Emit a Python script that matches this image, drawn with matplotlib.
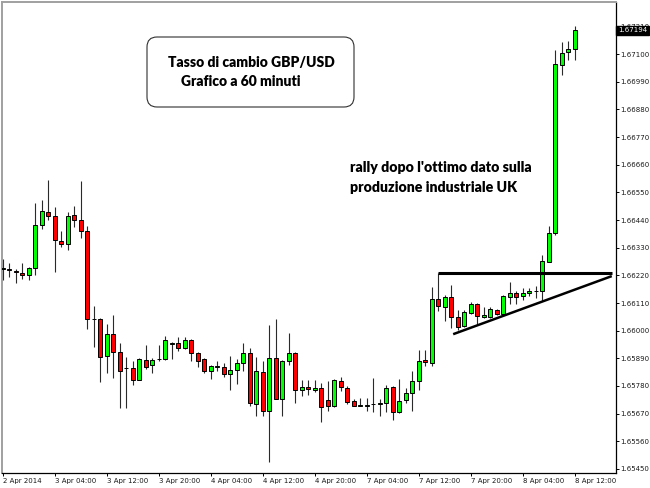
import numpy as np
import matplotlib
matplotlib.use('Agg')
import matplotlib.pyplot as plt
from matplotlib.patches import FancyBboxPatch


# GBP/USD hourly candles, 2 Apr 2014 20:00 -> 8 Apr 12:00 (weekend skipped)
opens = [1.66245, 1.66247, 1.66236, 1.66231, 1.66221, 1.66250, 1.66419, 1.66470, 1.66457, 1.66356,
         1.66345, 1.66459, 1.66441, 1.66396, 1.66047, 1.66046, 1.65899, 1.65986, 1.65915, 1.65851,
         1.65850, 1.65805, 1.65883, 1.65862, 1.65886, 1.65886, 1.65945, 1.65950, 1.65930, 1.65964,
         1.65912, 1.65886, 1.65841, 1.65857, 1.65857, 1.65829, 1.65845, 1.65872, 1.65912, 1.65709,
         1.65837, 1.65680, 1.65892, 1.65730, 1.65879, 1.65912, 1.65764, 1.65776, 1.65765, 1.65773,
         1.65726, 1.65701, 1.65801, 1.65772, 1.65722, 1.65702, 1.65701, 1.65707, 1.65707, 1.65714,
         1.65777, 1.65676, 1.65726, 1.65751, 1.65798, 1.65883, 1.65872, 1.66125, 1.66095, 1.66135,
         1.66053, 1.66019, 1.66072, 1.66105, 1.66055, 1.66055, 1.66082, 1.66066, 1.66134, 1.66150,
         1.66138, 1.66150, 1.66157, 1.66156, 1.66275, 1.66387, 1.67058, 1.67107, 1.67119]
highs = [1.66284, 1.66268, 1.66247, 1.66268, 1.66255, 1.66506, 1.66520, 1.66599, 1.66490, 1.66397,
         1.66470, 1.66494, 1.66595, 1.66416, 1.66099, 1.66049, 1.66028, 1.66061, 1.65952, 1.65896,
         1.65880, 1.65890, 1.65944, 1.65890, 1.65942, 1.65978, 1.65953, 1.65975, 1.65975, 1.65966,
         1.65914, 1.65892, 1.65864, 1.65880, 1.65870, 1.65900, 1.65887, 1.65949, 1.65932, 1.65894,
         1.65878, 1.66023, 1.66047, 1.65882, 1.65990, 1.65915, 1.65802, 1.65804, 1.65802, 1.65793,
         1.65801, 1.65806, 1.65817, 1.65779, 1.65729, 1.65734, 1.65734, 1.65812, 1.65729, 1.65784,
         1.65780, 1.65806, 1.65771, 1.65838, 1.65925, 1.65925, 1.66172, 1.66228, 1.66143, 1.66181,
         1.66082, 1.66082, 1.66113, 1.66109, 1.66093, 1.66095, 1.66085, 1.66140, 1.66193, 1.66159,
         1.66168, 1.66168, 1.66179, 1.66301, 1.66416, 1.67116, 1.67147, 1.67153, 1.67212]
lows = [1.66201, 1.66212, 1.66189, 1.66204, 1.66200, 1.66221, 1.66403, 1.66440, 1.66233, 1.66334,
        1.66320, 1.66411, 1.66367, 1.66007, 1.65937, 1.65796, 1.65833, 1.65812, 1.65692, 1.65692,
        1.65783, 1.65802, 1.65846, 1.65833, 1.65879, 1.65883, 1.65888, 1.65921, 1.65928, 1.65879,
        1.65855, 1.65833, 1.65808, 1.65839, 1.65817, 1.65766, 1.65789, 1.65838, 1.65700, 1.65660,
        1.65661, 1.65479, 1.65727, 1.65660, 1.65862, 1.65714, 1.65740, 1.65743, 1.65756, 1.65636,
        1.65680, 1.65697, 1.65762, 1.65710, 1.65701, 1.65699, 1.65681, 1.65678, 1.65659, 1.65678,
        1.65643, 1.65673, 1.65713, 1.65681, 1.65763, 1.65859, 1.65859, 1.66080, 1.66040, 1.66011,
        1.66003, 1.66016, 1.66066, 1.66024, 1.66052, 1.66052, 1.66064, 1.66061, 1.66107, 1.66106,
        1.66123, 1.66136, 1.66131, 1.66117, 1.66272, 1.66381, 1.67017, 1.67077, 1.67078]
closes = [1.66248, 1.66241, 1.66235, 1.66221, 1.66250, 1.66420, 1.66474, 1.66457, 1.66360, 1.66345,
          1.66457, 1.66440, 1.66395, 1.66047, 1.66045, 1.65895, 1.65986, 1.65915, 1.65841, 1.65850,
          1.65805, 1.65887, 1.65857, 1.65883, 1.65887, 1.65962, 1.65952, 1.65932, 1.65964, 1.65912,
          1.65879, 1.65841, 1.65858, 1.65858, 1.65829, 1.65845, 1.65872, 1.65912, 1.65711, 1.65841,
          1.65680, 1.65892, 1.65730, 1.65880, 1.65912, 1.65766, 1.65775, 1.65767, 1.65773, 1.65696,
          1.65701, 1.65805, 1.65776, 1.65718, 1.65702, 1.65703, 1.65706, 1.65708, 1.65714, 1.65773,
          1.65677, 1.65722, 1.65754, 1.65798, 1.65880, 1.65876, 1.66126, 1.66097, 1.66135, 1.66055,
          1.66016, 1.66076, 1.66107, 1.66059, 1.66062, 1.66088, 1.66066, 1.66136, 1.66151, 1.66135,
          1.66150, 1.66156, 1.66158, 1.66276, 1.66390, 1.67059, 1.67106, 1.67119, 1.67194]

# time axis labels, one every 8 bars
time_labels = ["2 Apr 2014", "3 Apr 04:00", "3 Apr 12:00", "3 Apr 20:00", "4 Apr 04:00",
               "4 Apr 12:00", "4 Apr 20:00", "7 Apr 04:00", "7 Apr 12:00", "7 Apr 20:00",
               "8 Apr 04:00", "8 Apr 12:00"]
label_step = 8

# price scale ticks
price_ticks = [1.65450 + 0.0011 * k for k in range(17)]

# hand-drawn lines: resistance + rising support (bar index, price)
resistance_x = [66.9, 93.7]
resistance_y = [1.66228, 1.66228]
support_x = [69.3, 93.7]
support_y = [1.65986, 1.66217]

box_lines = ["Tasso di cambio GBP/USD", "Grafico a 60 minuti"]
note_lines = ["rally dopo l'ottimo dato sulla", "produzione industriale UK"]


def main():
    W, H = 650, 488
    fig = plt.figure(figsize=(W / 100, H / 100), dpi=100)
    fig.patch.set_facecolor('white')

    # chart area in pixels: x 2..616, y 2..473
    ax = fig.add_axes([2 / W, 1 - 473 / H, 614 / W, 471 / H])

    o = np.array(opens)
    h = np.array(highs)
    l = np.array(lows)
    c = np.array(closes)
    x = np.arange(len(o))

    up = c >= o
    colors = np.where(up, '#00ff00', '#ff0000')

    # wicks
    ax.vlines(x, l, h, color='#2a2a2a', linewidth=0.8, zorder=2)
    # bodies
    bottoms = np.minimum(o, c)
    heights = np.maximum(np.abs(c - o), 0.000005)
    ax.bar(x, heights, bottom=bottoms, width=0.62, color=colors,
           edgecolor='black', linewidth=0.7, zorder=3)

    # drawn lines
    ax.plot(resistance_x, resistance_y, color='black', linewidth=2.2,
            solid_capstyle='butt', zorder=4, clip_on=False)
    ax.plot(support_x, support_y, color='black', linewidth=1.8,
            solid_capstyle='butt', zorder=4, clip_on=False)

    ax.set_xlim(-0.11, 94.35)
    ax.set_ylim(1.65434, 1.67307)

    # axes styling like a MT4 chart
    ax.spines['left'].set_color('#a0a0a0')
    ax.spines['top'].set_color('#a0a0a0')
    ax.spines['left'].set_linewidth(1.4)
    ax.spines['top'].set_linewidth(1.4)
    ax.spines['right'].set_color('black')
    ax.spines['bottom'].set_color('black')
    ax.spines['right'].set_linewidth(0.9)
    ax.spines['bottom'].set_linewidth(0.9)

    ax.yaxis.tick_right()
    ax.set_yticks(price_ticks)
    ax.set_yticklabels([f"{p:.5f}" for p in price_ticks])
    ax.set_xticks([i * label_step for i in range(len(time_labels))])
    ax.set_xticklabels(time_labels, ha='left')
    ax.tick_params(axis='y', direction='out', length=2.2, width=0.7, pad=1.0,
                   labelsize=5, labelcolor='#1a1a1a', color='black')
    ax.tick_params(axis='x', direction='out', length=2.2, width=0.7, pad=1.5,
                   labelsize=5, labelcolor='#1a1a1a', color='black')

    # current price tag (covers part of the top tick label, as in MT4)
    ax.text(1.003, closes[-1], f"{closes[-1]:.5f}", transform=ax.get_yaxis_transform(),
            ha='left', va='center', color='white', fontsize=5, zorder=6, clip_on=False,
            bbox=dict(facecolor='black', edgecolor='black', boxstyle='square,pad=0.25'))

    # overlay in pixel coordinates for the annotations
    ov = fig.add_axes([0, 0, 1, 1], facecolor='none')
    ov.set_xlim(0, W)
    ov.set_ylim(H, 0)
    ov.axis('off')

    font = dict(fontsize=10, fontweight='heavy', family='Lato',
                ha='left', va='center', color='black')

    box = FancyBboxPatch((147, 37), 207, 70, boxstyle='round,pad=0,rounding_size=10',
                         facecolor='white', edgecolor='#303030', linewidth=0.8)
    ov.add_patch(box)
    ov.text(168, 62, box_lines[0], **font)
    ov.text(181, 82, box_lines[1], **font)

    ov.text(350, 168, note_lines[0], fontsize=10.2, **{k: v for k, v in font.items() if k != 'fontsize'})
    ov.text(350, 187, note_lines[1], fontsize=10.2, **{k: v for k, v in font.items() if k != 'fontsize'})

    fig.savefig('out.png', dpi=100)


if __name__ == "__main__":
    main()
